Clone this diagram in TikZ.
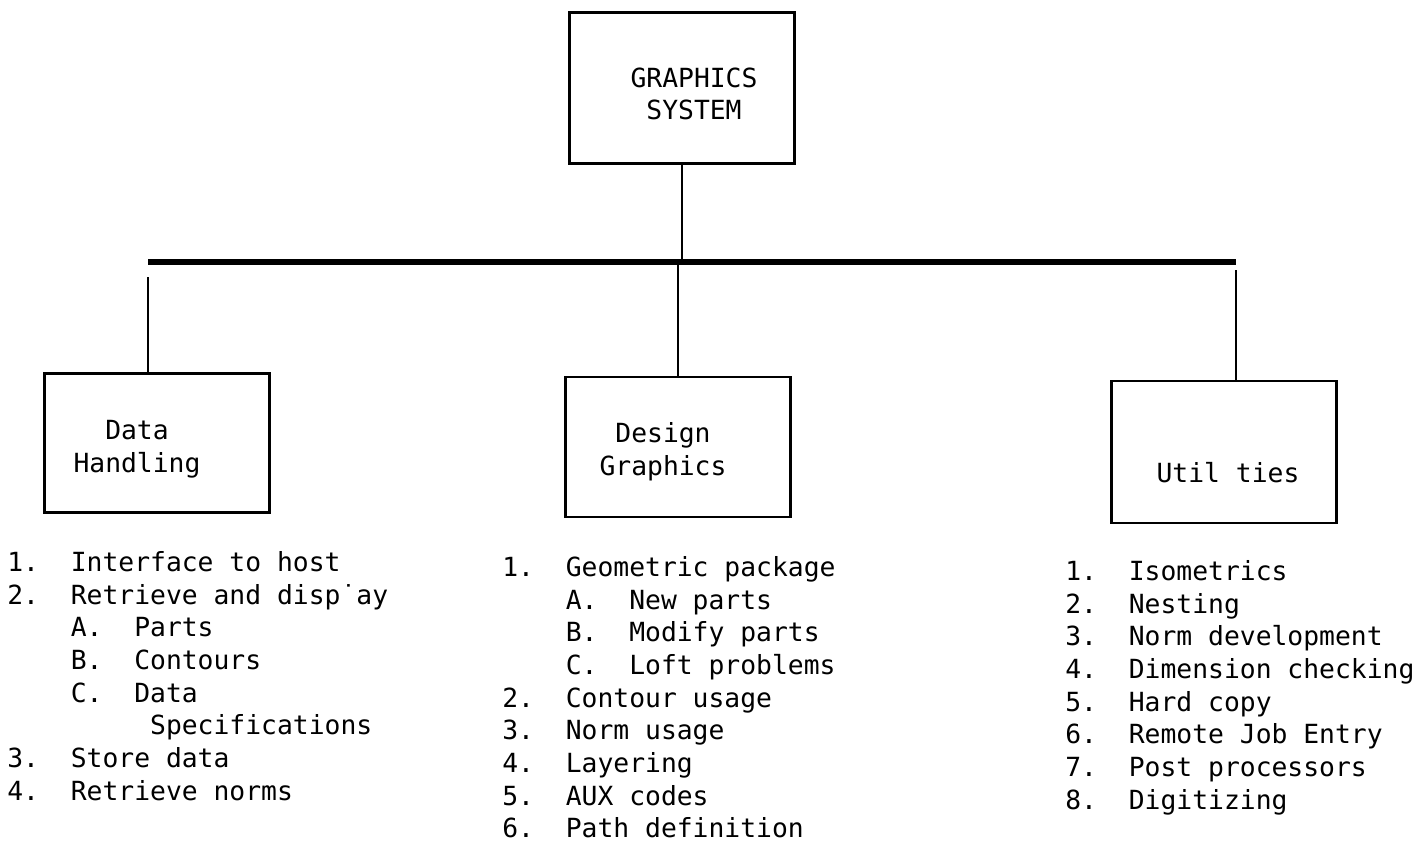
\documentclass[tikz,border=0pt]{standalone}
\usepackage{fontspec}
\setmainfont{DejaVu Sans Mono}
\usetikzlibrary{positioning}

\begin{document}
\begin{tikzpicture}[x=0.02cm, y=-0.02cm,
  box/.style={draw, line width=1.4pt, minimum width=4.5cm, minimum height=2.8cm},
  boxtext/.style={align=center, inner sep=0pt, font=\fontsize{15}{18.6}\selectfont\frenchspacing},
  list/.style={align=left, anchor=north west, inner sep=0pt, font=\fontsize{15}{18.6}\selectfont\frenchspacing},
  link/.style={line width=1.2pt},
  bar/.style={line width=3.4pt}]
  \useasboundingbox (0,0) rectangle (1419,843);

  % boxes
  \node[box, minimum height=3.02cm] (sys) at (682,88) {};
  \node[box, minimum height=2.78cm] (dh) at (157,443) {};
  \node[box] (dg) at (678,447) {};
  \node[box, minimum height=2.84cm] (ut) at (1224,452) {};

  \node[boxtext] (sys-t) at (694,94) {GRAPHICS\\SYSTEM};
  \node[boxtext] (dh-t) at (137,449) {Data\\Handling};
  \node[boxtext] (dg-t) at (663,452) {Design\\Graphics};
  \node[boxtext] (ut-t) at (1228,473) {Util ties};

  % connectors
  \coordinate (barL) at (148,262);
  \coordinate (barR) at (1236,262);
  \coordinate (gapL) at (148,277);
  \coordinate (gapR) at (1236,270);
  \draw[bar] (barL) -- (barR);
  \draw[link] (sys.south) -- (sys.south |- barL);
  \draw[link] (gapL) -- (gapL |- dh.north);
  \draw[link] (dg.north |- barL) -- (dg.north);
  \draw[link] (gapR) -- (gapR |- ut.north);

  % lists
  \node[list] (dh-l) at (7,551) {%
    1.~~Interface to host\\
    2.~~Retrieve and disp˙ay\\
    ~~~~A.~~Parts\\
    ~~~~B.~~Contours\\
    ~~~~C.~~Data\\
    ~~~~~~~~~Specifications\\
    3.~~Store data\\
    4.~~Retrieve norms};
  \node[list] (dg-l) at (502,556) {%
    1.~~Geometric package\\
    ~~~~A.~~New parts\\
    ~~~~B.~~Modify parts\\
    ~~~~C.~~Loft problems\\
    2.~~Contour usage\\
    3.~~Norm usage\\
    4.~~Layering\\
    5.~~AUX codes\\
    6.~~Path definition};
  \node[list] (ut-l) at (1065,560) {%
    1.~~Isometrics\\
    2.~~Nesting\\
    3.~~Norm development\\
    4.~~Dimension checking\\
    5.~~Hard copy\\
    6.~~Remote Job Entry\\
    7.~~Post processors\\
    8.~~Digitizing};
\end{tikzpicture}
\end{document}
